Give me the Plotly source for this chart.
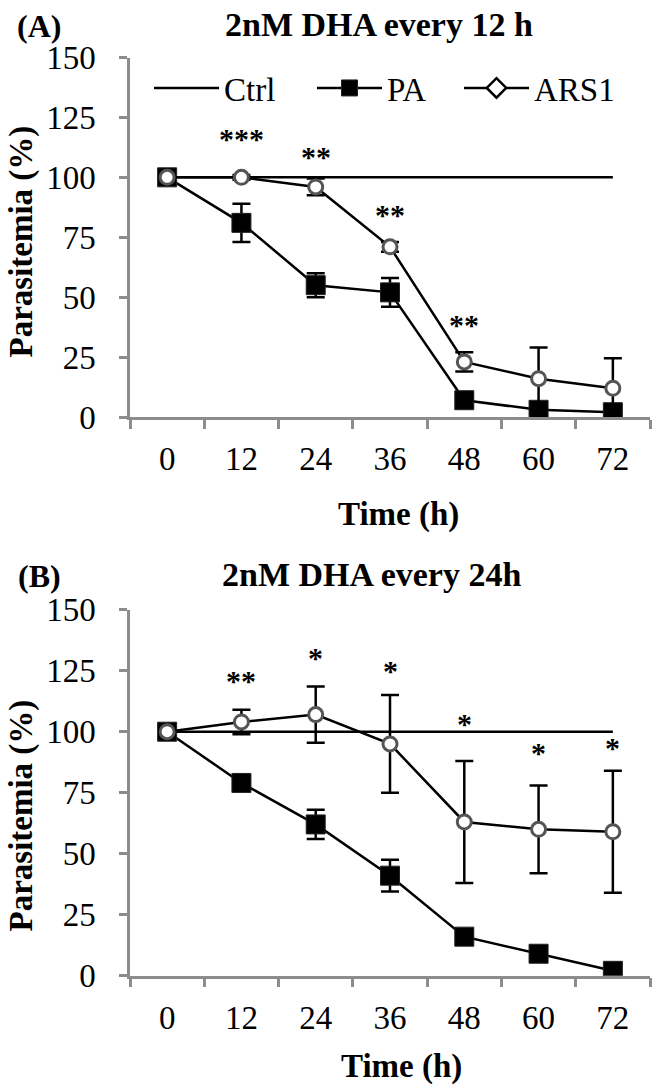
import plotly.graph_objects as go

# ---------------- data ----------------
time_labels = ["0", "12", "24", "36", "48", "60", "72"]

ctrl = [100, 100, 100, 100, 100, 100, 100]

pa_a = [100, 81, 55, 52, 7, 3, 2]
pa_a_err = [0, 8, 5, 6, 1.5, 1.5, 1]
ars1_a = [100, 100, 96, 71, 23, 16, 12]
ars1_a_err = [0, 1, 3.5, 2, 4, 13, 12.5]

pa_b = [100, 79, 62, 41, 16, 9, 2]
pa_b_err = [0, 1.5, 6, 6.5, 1.5, 1.5, 1]
ars1_b = [100, 104, 107, 95, 63, 60, 59]
ars1_b_err = [0, 5, 11.5, 20, 25, 18, 25]

stars_a_x = ["12", "24", "36", "48"]
stars_a_y = [117, 109.5, 85.4, 39.3]
stars_a_txt = ["***", "**", "**", "**"]

stars_b_x = ["12", "24", "36", "48", "60", "72"]
stars_b_y = [122, 131.4, 126, 104, 92.5, 94.5]
stars_b_txt = ["**", "*", "*", "*", "*", "*"]

y_ticks = [0, 25, 50, 75, 100, 125, 150]

# ---------------- style ----------------
FONT = "Liberation Serif"
W, H = 666, 1090
AXIS_GRAY = "#8c8c8c"


def px_x(p):
    return p / W


def px_y(p):
    return 1 - p / H


fig = go.Figure()


def add_panel(xa, ya, pa, pa_err, ars, ars_err, legend_on):
    fig.add_trace(go.Scatter(
        x=time_labels, y=ctrl, mode="lines", name="Ctrl",
        line=dict(color="black", width=2.5),
        xaxis=xa, yaxis=ya, showlegend=legend_on, legend="legend"))
    fig.add_trace(go.Scatter(
        x=time_labels, y=pa, mode="lines+markers", name="PA",
        line=dict(color="black", width=2.5),
        marker=dict(symbol="square", size=19, color="black",
                    line=dict(color="#222", width=1)),
        error_y=dict(type="data", array=pa_err, visible=True,
                     color="black", thickness=2.5, width=9),
        xaxis=xa, yaxis=ya, showlegend=legend_on, legend="legend2"))
    fig.add_trace(go.Scatter(
        x=time_labels, y=ars, mode="lines+markers", name="ARS1",
        line=dict(color="black", width=2.5),
        marker=dict(symbol="circle", size=14, color="white",
                    line=dict(color="#555", width=3)),
        error_y=dict(type="data", array=ars_err, visible=True,
                     color="black", thickness=2.5, width=9),
        xaxis=xa, yaxis=ya, showlegend=False))


add_panel("x", "y", pa_a, pa_a_err, ars1_a, ars1_a_err, True)
add_panel("x2", "y2", pa_b, pa_b_err, ars1_b, ars1_b_err, False)

# legend-only entry for ARS1 (open diamond as in the key)
fig.add_trace(go.Scatter(
    x=[None], y=[None], mode="lines+markers", name="ARS1",
    line=dict(color="black", width=2.5),
    marker=dict(symbol="diamond", size=15, color="white",
                line=dict(color="black", width=2.5)),
    xaxis="x", yaxis="y", legend="legend3"))

xaxis_common = dict(
    type="category", categoryorder="array", categoryarray=time_labels,
    range=[-0.5, 6.5], tickson="boundaries",
    showline=True, linecolor=AXIS_GRAY, linewidth=2.5,
    ticks="outside", ticklen=9, tickwidth=2.5, tickcolor=AXIS_GRAY,
    tickfont=dict(family=FONT, size=33, color="black"),
    ticklabelstandoff=11,
    showgrid=False, zeroline=False, fixedrange=True,
)
yaxis_common = dict(
    range=[0, 150], tickvals=y_ticks,
    showline=True, linecolor=AXIS_GRAY, linewidth=2.5,
    ticks="outside", ticklen=8, tickwidth=2.5, tickcolor=AXIS_GRAY,
    tickfont=dict(family=FONT, size=33, color="black"),
    ticklabelstandoff=17,
    showgrid=False, zeroline=False, fixedrange=True,
)

x_dom = [px_x(130), px_x(650)]

fig.update_layout(
    width=W, height=H, autosize=False,
    margin=dict(l=0, r=0, t=0, b=0, autoexpand=False),
    paper_bgcolor="white", plot_bgcolor="white",
    xaxis=dict(domain=x_dom, anchor="y", **xaxis_common),
    yaxis=dict(domain=[px_y(417), px_y(57.5)], anchor="x", **yaxis_common),
    xaxis2=dict(domain=x_dom, anchor="y2", **xaxis_common),
    yaxis2=dict(domain=[px_y(975.7), px_y(609.7)], anchor="x2", **yaxis_common),
)

leg_common = dict(
    orientation="h", yanchor="middle", xanchor="left",
    y=px_y(88), font=dict(family=FONT, size=33, color="black"),
    bgcolor="rgba(0,0,0,0)", itemwidth=65, borderwidth=0,
)
fig.update_layout(
    legend=dict(x=px_x(149), **leg_common),
    legend2=dict(x=px_x(312), **leg_common),
    legend3=dict(x=px_x(459), **leg_common),
)

ann = []
for xs, ys, ts, xr, yr in [(stars_a_x, stars_a_y, stars_a_txt, "x", "y"),
                           (stars_b_x, stars_b_y, stars_b_txt, "x2", "y2")]:
    for xv, yv, tv in zip(xs, ys, ts):
        ann.append(dict(x=time_labels.index(xv), y=yv, xref=xr, yref=yr,
                        text=tv, showarrow=False,
                        xanchor="center", yanchor="middle", yshift=-2,
                        font=dict(family=FONT, size=30, color="black", weight="bold")))


def paper_text(text, x, y, size, angle=0):
    return dict(x=px_x(x), y=px_y(y), xref="paper", yref="paper", text=text,
                showarrow=False, xanchor="center", yanchor="middle",
                textangle=angle,
                font=dict(family=FONT, size=size, color="black", weight="bold"))


ann += [
    paper_text("2nM DHA every 12 h", 379, 24, 34),
    paper_text("(A)", 39, 26, 32),
    paper_text("2nM DHA every 24h", 371, 574, 34),
    paper_text("(B)", 39, 576, 32),
    paper_text("Parasitemia (%)", 21, 241.5, 33, -90),
    paper_text("Parasitemia (%)", 21, 815.5, 33, -90),
    paper_text("Time (h)", 398, 515, 33),
    paper_text("Time (h)", 401, 1066, 33),
]
fig.update_layout(annotations=ann)

# the page itself gets no body margin, so the 666x1090 figure fills the window
fig.write_html("out.html", config={"displayModeBar": False},
               post_script="document.body.style.margin='0';")
